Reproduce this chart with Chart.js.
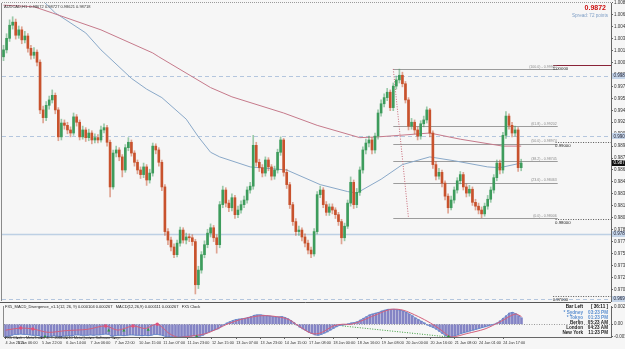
<!DOCTYPE html>
<html><head><meta charset="utf-8">
<script src="https://cdn.jsdelivr.net/npm/chart.js@4.4.1/dist/chart.umd.min.js"></script>
<style>
html,body{margin:0;padding:0;background:#f6f6f6;width:625px;height:349px;overflow:hidden}
#wrap{position:relative;width:625px;height:349px}
canvas{position:absolute;left:0}
#main{top:0}
#macd{top:302px}
</style></head><body>
<div id="wrap"><canvas id="main" width="625" height="302"></canvas><canvas id="macd" width="625" height="47"></canvas></div>
<script>
// ================= DATA =================
const symbolHeader = 'AUDCAD,H1  0.98672 0.98727 0.98621 0.98718';
const lastPriceBig = '0.9872';
const spreadText = 'Spread: 72 points';
const lastPrice = 0.98720;

const timeTickIdx = [0,4,12,20,28,36,44,52,60,68,76,84,92,100,108,116,124,132,140,148,156,164];
const timeTickText = ['4 Jan 2011','5 Jan 06:00','5 Jan 22:00','6 Jan 14:00','7 Jan 06:00','7 Jan 22:00','10 Jan 15:00','11 Jan 07:00','11 Jan 23:00','12 Jan 15:00','13 Jan 07:00','13 Jan 23:00','14 Jan 15:00','17 Jan 08:00','18 Jan 00:00','18 Jan 16:00','19 Jan 08:00','20 Jan 00:00','20 Jan 16:00','21 Jan 08:00','24 Jan 01:00','24 Jan 17:00'];

const opens = [1.0010,1.0019,1.0034,1.0051,1.0055,1.0038,1.0045,1.0032,1.0037,1.0021,
1.0012,1.0016,1.0003,0.9941,0.9931,0.9947,0.9954,0.9960,0.9941,0.9906,
0.9924,0.9921,0.9915,0.9911,0.9932,0.9925,0.9906,0.9915,0.9905,0.9911,
0.9902,0.9905,0.9902,0.9915,0.9918,0.9899,0.9841,0.9885,0.9889,0.9880,
0.9863,0.9892,0.9899,0.9885,0.9873,0.9863,0.9857,0.9867,0.9850,0.9859,
0.9894,0.9889,0.9873,0.9841,0.9783,0.9772,0.9763,0.9753,0.9768,0.9785,
0.9772,0.9776,0.9775,0.9770,0.9714,0.9733,0.9753,0.9766,0.9781,0.9788,
0.9775,0.9766,0.9818,0.9837,0.9820,0.9814,0.9827,0.9805,0.9811,0.9818,
0.9824,0.9837,0.9842,0.9895,0.9873,0.9866,0.9859,0.9876,0.9867,0.9855,
0.9863,0.9886,0.9902,0.9860,0.9844,0.9818,0.9796,0.9783,0.9785,0.9776,
0.9768,0.9759,0.9754,0.9783,0.9831,0.9837,0.9818,0.9808,0.9815,0.9811,
0.9805,0.9796,0.9775,0.9790,0.9820,0.9847,0.9818,0.9834,0.9863,0.9889,
0.9898,0.9902,0.9889,0.9907,0.9937,0.9949,0.9957,0.9964,0.9944,0.9972,
0.9980,0.9986,0.9975,0.9954,0.9920,0.9925,0.9915,0.9907,0.9923,0.9928,
0.9941,0.9911,0.9870,0.9855,0.9860,0.9846,0.9829,0.9814,0.9824,0.9837,
0.9849,0.9857,0.9841,0.9833,0.9838,0.9821,0.9816,0.9811,0.9806,0.9816,
0.9825,0.9837,0.9853,0.9872,0.9863,0.9908,0.9933,0.9921,0.9911,0.9915,
0.9866];
const highs = [1.0025,1.0040,1.0058,1.0062,1.0059,1.0050,1.0049,1.0043,1.0040,1.0025,
1.0022,1.0019,1.0006,0.9946,0.9952,0.9959,0.9967,0.9963,0.9944,0.9929,
0.9928,0.9925,0.9919,0.9937,0.9935,0.9928,0.9920,0.9918,0.9916,0.9914,
0.9910,0.9909,0.9920,0.9923,0.9921,0.9902,0.9889,0.9894,0.9892,0.9883,
0.9896,0.9905,0.9902,0.9888,0.9876,0.9867,0.9872,0.9870,0.9864,0.9898,
0.9897,0.9892,0.9876,0.9844,0.9787,0.9776,0.9767,0.9772,0.9789,0.9788,
0.9781,0.9780,0.9779,0.9773,0.9738,0.9757,0.9771,0.9786,0.9793,0.9791,
0.9779,0.9822,0.9842,0.9840,0.9824,0.9832,0.9830,0.9816,0.9823,0.9829,
0.9841,0.9847,0.9908,0.9899,0.9877,0.9870,0.9880,0.9879,0.9870,0.9868,
0.9890,0.9906,0.9904,0.9864,0.9847,0.9821,0.9800,0.9790,0.9788,0.9780,
0.9772,0.9763,0.9787,0.9835,0.9842,0.9840,0.9822,0.9819,0.9819,0.9814,
0.9808,0.9799,0.9794,0.9824,0.9854,0.9850,0.9839,0.9867,0.9893,0.9903,
0.9907,0.9905,0.9911,0.9941,0.9954,0.9962,0.9969,0.9967,0.9976,0.9985,
0.9994,0.9990,0.9978,0.9957,0.9930,0.9928,0.9919,0.9927,0.9933,0.9945,
0.9943,0.9914,0.9874,0.9865,0.9863,0.9849,0.9832,0.9829,0.9841,0.9853,
0.9861,0.9860,0.9845,0.9843,0.9841,0.9825,0.9820,0.9815,0.9820,0.9830,
0.9841,0.9857,0.9876,0.9876,0.9912,0.9939,0.9936,0.9925,0.9920,0.9918,
0.9877];
const lows = [1.0005,1.0015,1.0030,1.0046,1.0033,1.0034,1.0027,1.0028,1.0016,1.0007,
1.0008,0.9998,0.9936,0.9924,0.9927,0.9942,0.9950,0.9936,0.9901,0.9902,
0.9916,0.9910,0.9906,0.9908,0.9920,0.9902,0.9903,0.9900,0.9901,0.9897,
0.9898,0.9898,0.9899,0.9911,0.9894,0.9828,0.9838,0.9880,0.9875,0.9854,
0.9860,0.9888,0.9881,0.9868,0.9858,0.9852,0.9853,0.9843,0.9846,0.9855,
0.9884,0.9868,0.9836,0.9778,0.9766,0.9758,0.9749,0.9750,0.9764,0.9768,
0.9767,0.9770,0.9765,0.9702,0.9709,0.9729,0.9749,0.9762,0.9776,0.9770,
0.9755,0.9762,0.9814,0.9815,0.9809,0.9810,0.9800,0.9801,0.9807,0.9814,
0.9820,0.9833,0.9838,0.9868,0.9861,0.9854,0.9855,0.9862,0.9850,0.9851,
0.9859,0.9882,0.9855,0.9839,0.9813,0.9791,0.9778,0.9778,0.9771,0.9763,
0.9754,0.9749,0.9751,0.9780,0.9827,0.9814,0.9804,0.9804,0.9806,0.9800,
0.9791,0.9767,0.9771,0.9787,0.9816,0.9813,0.9814,0.9830,0.9859,0.9884,
0.9893,0.9884,0.9885,0.9903,0.9933,0.9945,0.9953,0.9940,0.9940,0.9968,
0.9976,0.9971,0.9950,0.9915,0.9916,0.9910,0.9902,0.9903,0.9919,0.9924,
0.9906,0.9865,0.9850,0.9851,0.9841,0.9824,0.9807,0.9811,0.9820,0.9833,
0.9845,0.9837,0.9828,0.9829,0.9817,0.9811,0.9806,0.9801,0.9803,0.9812,
0.9821,0.9833,0.9849,0.9858,0.9859,0.9904,0.9916,0.9906,0.9907,0.9861,
0.9862];
const closes = [1.0019,1.0034,1.0051,1.0055,1.0038,1.0045,1.0032,1.0037,1.0021,1.0012,
1.0016,1.0003,0.9941,0.9931,0.9947,0.9954,0.9960,0.9941,0.9906,0.9924,
0.9921,0.9915,0.9911,0.9932,0.9925,0.9906,0.9915,0.9905,0.9911,0.9902,
0.9905,0.9902,0.9915,0.9918,0.9899,0.9841,0.9885,0.9889,0.9880,0.9863,
0.9892,0.9899,0.9885,0.9873,0.9863,0.9857,0.9867,0.9850,0.9859,0.9894,
0.9889,0.9873,0.9841,0.9783,0.9772,0.9763,0.9753,0.9768,0.9785,0.9772,
0.9776,0.9775,0.9770,0.9714,0.9733,0.9753,0.9766,0.9781,0.9788,0.9775,
0.9766,0.9818,0.9837,0.9820,0.9814,0.9827,0.9805,0.9811,0.9818,0.9824,
0.9837,0.9842,0.9895,0.9873,0.9866,0.9859,0.9876,0.9867,0.9855,0.9863,
0.9886,0.9902,0.9860,0.9844,0.9818,0.9796,0.9783,0.9785,0.9776,0.9768,
0.9759,0.9754,0.9783,0.9831,0.9837,0.9818,0.9808,0.9815,0.9811,0.9805,
0.9796,0.9775,0.9790,0.9820,0.9847,0.9818,0.9834,0.9863,0.9889,0.9898,
0.9902,0.9889,0.9907,0.9937,0.9949,0.9957,0.9964,0.9944,0.9972,0.9980,
0.9986,0.9975,0.9954,0.9920,0.9925,0.9915,0.9907,0.9923,0.9928,0.9941,
0.9911,0.9870,0.9855,0.9860,0.9846,0.9829,0.9814,0.9824,0.9837,0.9849,
0.9857,0.9841,0.9833,0.9838,0.9821,0.9816,0.9811,0.9806,0.9816,0.9825,
0.9837,0.9853,0.9872,0.9863,0.9908,0.9933,0.9921,0.9911,0.9915,0.9866,
0.9872];

const maRedIdx = [0,10,16,32,49,51,68,75,92,103,117,123,130,140,150,164,170];
const maRedVal = [1.0077,1.0075,1.0067,1.0045,1.0015,1.0010,0.9970,0.9958,0.9937,0.9921,0.9905,0.9906,0.9908,0.9911,0.9903,0.9894,0.9894];
const maBlueIdx = [10,17,27,32,42,47,52,60,64,68,71,81,93,104,113,116,124,131,140,148,159,163,170];
const maBlueVal = [1.0094,1.0067,1.0041,1.0019,0.9982,0.9968,0.9957,0.9929,0.9906,0.9886,0.9880,0.9867,0.9863,0.9844,0.9835,0.9833,0.9851,0.9870,0.9880,0.9875,0.9867,0.9866,0.9872];

const priceTicks = [1.00800,1.00645,1.00490,1.00335,1.00180,1.00025,0.99870,0.99715,0.99560,0.99405,0.99250,0.99095,0.98940,0.98785,0.98630,0.98475,0.98320,0.98165,0.98010,0.97855,0.97700,0.97545,0.97390,0.97235,0.97080];

const hLinePrices = [0.99851,0.99065,0.97805,0.96955];
const levelPrices = [1.00000,0.99000,0.98000,0.97000];
const levelText = ['1.00000','0.99000','0.98000','0.97000'];
const fibLevels = ['100.0','61.8','50.0','38.2','23.6','0.0'];
const fibPrices = [0.99942,0.99202,0.98974,0.98745,0.98463,0.98006];
const fibDiagBars = [128,133];
const fibDiagPrices = [0.99942,0.98006];

const macdHist = [-0.0029,-0.0028,-0.0026,-0.0024,-0.0024,-0.0023,-0.0024,-0.0024,-0.0025,-0.0026,
-0.0026,-0.0027,-0.0030,-0.0030,-0.0029,-0.0028,-0.0027,-0.0028,-0.0029,-0.0028,
-0.0027,-0.0027,-0.0027,-0.0025,-0.0025,-0.0026,-0.0026,-0.0026,-0.0025,-0.0026,
-0.0025,-0.0025,-0.0024,-0.0023,-0.0024,-0.0028,-0.0027,-0.0026,-0.0026,-0.0027,
-0.0026,-0.0025,-0.0025,-0.0026,-0.0026,-0.0027,-0.0026,-0.0027,-0.0026,-0.0024,
-0.0024,-0.0025,-0.0027,-0.0030,-0.0030,-0.0030,-0.0030,-0.0030,-0.0029,-0.0029,
-0.0028,-0.0028,-0.0027,-0.0029,-0.0028,-0.0026,-0.0022,-0.0018,-0.0015,-0.0013,
-0.0011,-0.0006,-0.0001,0.0003,0.0006,0.0009,0.0011,0.0012,0.0013,0.0014,
0.0016,0.0018,0.0021,0.0022,0.0022,0.0021,0.0020,0.0019,0.0018,0.0017,
0.0017,0.0018,0.0016,0.0013,0.0009,0.0004,-0.0002,-0.0007,-0.0011,-0.0015,
-0.0019,-0.0022,-0.0025,-0.0026,-0.0024,-0.0021,-0.0018,-0.0014,-0.0010,-0.0006,
-0.0003,-0.0002,-0.0001,0.0001,0.0003,0.0004,0.0006,0.0010,0.0014,0.0018,
0.0022,0.0024,0.0026,0.0028,0.0031,0.0033,0.0035,0.0035,0.0035,0.0034,
0.0033,0.0031,0.0028,0.0024,0.0020,0.0015,0.0011,0.0007,0.0003,-0.0002,
-0.0005,-0.0008,-0.0012,-0.0017,-0.0022,-0.0027,-0.0030,-0.0029,-0.0027,-0.0025,
-0.0022,-0.0020,-0.0018,-0.0016,-0.0014,-0.0012,-0.0010,-0.0008,-0.0006,-0.0004,
-0.0002,0.0000,0.0003,0.0008,0.0014,0.0020,0.0026,0.0028,0.0025,0.0020,
0.0015];
const macdSigIdx = [0,5,9,14,20,27,33,37,42,46,50,54,57,61,66,70,73,78,84,88,93,97,101,104,108,111,114,118,123,127,131,136,140,143,147,152,158,163,168,170];
const macdSigVal = [-0.0014,-0.0009,-0.0011,-0.0019,-0.0015,-0.0012,-0.0004,-0.0014,-0.0004,-0.0010,0.0000,-0.0022,-0.0031,-0.0028,-0.0022,-0.0010,0.0000,0.0012,0.0020,0.0019,0.0012,-0.0006,-0.0022,-0.0020,-0.0004,0.0000,0.0000,0.0010,0.0025,0.0035,0.0033,0.0018,0.0003,-0.0011,-0.0030,-0.0022,-0.0011,0.0006,0.0024,0.0018];
const peakDotIdx = [5,9,33,42,50];
const peakDotVal = [-0.0009,-0.0011,-0.0004,-0.0004,0.0000];
const troughMarkIdx = [13,34,39,47,63,146];
const troughMarkVal = [-0.0029,-0.0015,-0.0015,-0.0013,-0.0029,-0.0029];
const divLineIdx = [111,146];
const divLineVal = [-0.0004,-0.0030];
const macdTickVals = [0.0040,0,-0.0029];
const macdTickText = ['0.00285','0.00','-0.00302'];
const macdTitle = 'FX5_MACD_Divergence_v1.1(12, 26, 9) 0.000104 0.000267   MACD(12,26,9) 0.000111 0.000267   FX5 Clock';
const footerText = 'FX5 Clock - MetaTrader 4, \u00A9 2001-2010 MetaQuotes Software Corp.';
const clockNames = ['Bar Left','* Sydney','* Tokyo','Berlin','London','New York'];
const clockValues = ['[ 36:11 ]','03:23 PM','01:23 PM','05:23 AM','04:23 AM','11:23 PM'];

// ================= LAYOUT / STYLE =================
const FONT = '"Liberation Sans", Arial, sans-serif';
Chart.defaults.font.family = FONT;
Chart.defaults.font.size = 4.5;
const X_MIN = -0.5, X_MAX = 199.5;
const MAIN_MIN = 0.969286, MAIN_MAX = 1.007987;
const MACD_MIN = -0.0030, MACD_MAX = 0.00428;
const FIB_START = 128, FIB_END = 182;
const LEVEL_START = [180.5,181.3,181.3,180.5];
const BG = '#f6f6f6';
const STYLE = {
  bull:'#3d9c5c', bear:'#c8522d',
  bullWick:'rgba(61,156,92,0.5)', bearWick:'rgba(200,82,45,0.5)',
  maRed:'#c67a8b', maBlue:'#8aa9c9',
  hLines:[
    {color:'#b4c6de', width:1, dash:[4,3]},
    {color:'#b4c6de', width:1, dash:[4,3]},
    {color:'#bdd0e4', width:1.6, dash:[]},
    {color:'#b4c6de', width:1, dash:[4,3]}
  ],
  levels:[
    {color:'#8a2338', width:1.2, dash:[]},
    {color:'#555', width:1, dash:[1,1.5]},
    {color:'#555', width:1, dash:[1,1.5]},
    {color:'#555', width:1, dash:[1,1.5]}
  ],
  fib:'#9c9c9c', fibText:'#8c8c8c', fibDiag:'#c86a78',
  hist:'rgba(112,112,188,0.85)', macdLine:'#5c88cc', sigLine:'#d4607c',
  peakDot:'#e0507c', trough:'#2f9a3a', div:'#3d9d3d',
  axis:'#666', text:'#222'
};

const idx = closes.map((_, i) => i);
const isBull = i => closes[i] >= opens[i];
const snap = v => Math.round(v) + 0.5;

function drawLine(ctx, x1, y1, x2, y2, color, w, dash) {
  ctx.save(); ctx.strokeStyle = color; ctx.lineWidth = w; ctx.setLineDash(dash || []);
  ctx.beginPath(); ctx.moveTo(x1, y1); ctx.lineTo(x2, y2); ctx.stroke(); ctx.restore();
}
function drawText(ctx, s, x, y, font, color, align) {
  ctx.save(); ctx.font = font; ctx.fillStyle = color; ctx.textAlign = align || 'left';
  ctx.textBaseline = 'middle'; ctx.fillText(s, x, y); ctx.restore();
}
const bgPlugin = {
  id: 'bg',
  beforeDraw(chart) { const c = chart.ctx; c.save(); c.fillStyle = BG; c.fillRect(0, 0, chart.width, chart.height); c.restore(); }
};
function zeroPad(scale) { scale.paddingTop = 0; scale.paddingBottom = 0; scale.paddingLeft = 0; scale.paddingRight = 0; }

// ---------- main chart decorations ----------
const mainDecor = {
  id: 'mainDecor',
  beforeDatasetsDraw(chart) {
    const {ctx, chartArea: a, scales: {x, y}} = chart;
    ctx.save();
    ctx.beginPath(); ctx.rect(a.left, a.top, a.right - a.left, a.bottom - a.top); ctx.clip();
    hLinePrices.forEach((p, k) => {
      const s = STYLE.hLines[k]; const py = snap(y.getPixelForValue(p));
      drawLine(ctx, a.left, py, a.right, py, s.color, s.width, s.dash);
    });
    const fx1 = x.getPixelForValue(FIB_START), fx2 = x.getPixelForValue(FIB_END);
    fibPrices.forEach(p => { const py = snap(y.getPixelForValue(p)); drawLine(ctx, fx1, py, fx2, py, STYLE.fib, 1); });
    drawLine(ctx, x.getPixelForValue(fibDiagBars[0]), y.getPixelForValue(fibDiagPrices[0]),
             x.getPixelForValue(fibDiagBars[1]), y.getPixelForValue(fibDiagPrices[1]), STYLE.fibDiag, 1, [1, 1.5]);
    levelPrices.forEach((p, k) => {
      const s = STYLE.levels[k]; const py = snap(y.getPixelForValue(p));
      drawLine(ctx, x.getPixelForValue(LEVEL_START[k]), py, a.right, py, s.color, s.width, s.dash);
    });
    ctx.restore();
  },
  afterDraw(chart) {
    const {ctx, chartArea: a, scales: {x, y}} = chart;
    drawLine(ctx, a.left - 0.5, a.top, a.left - 0.5, a.bottom, '#8a8a8a', 1);
    drawLine(ctx, a.left, a.top - 0.5, a.right, a.top - 0.5, '#9a9a9a', 1, [1, 1]);
    const fx2 = x.getPixelForValue(FIB_END);
    fibPrices.forEach((p, k) => {
      const py = y.getPixelForValue(p);
      drawText(ctx, '(' + fibLevels[k] + ') - ' + p.toFixed(5), fx2 - 1, py - 2.4, '3.6px ' + FONT, STYLE.fibText, 'right');
    });
    levelPrices.forEach((p, k) => {
      const py = y.getPixelForValue(p);
      drawText(ctx, levelText[k], x.getPixelForValue(LEVEL_START[k]) - 0.5, py + 4.2, '4.3px ' + FONT, STYLE.text, 'left');
    });
    drawText(ctx, symbolHeader, a.left + 2, a.top + 3.5, '4px ' + FONT, '#333', 'left');
    drawText(ctx, lastPriceBig, 606, 8.5, 'bold 7px ' + FONT, '#cc1111', 'right');
    drawText(ctx, spreadText, 608, 15.5, '4.6px ' + FONT, '#7f9fc6', 'right');
    const boxes = hLinePrices.map(p => ({p, bg:'#c6d6ea', fg:'#223'}));
    boxes.push({p: lastPrice, bg:'#111', fg:'#fff'});
    boxes.forEach(b => {
      const py = y.getPixelForValue(b.p);
      ctx.save(); ctx.fillStyle = b.bg; ctx.fillRect(a.right + 1, Math.round(py) - 3, 24, 6); ctx.restore();
      drawText(ctx, b.p.toFixed(5), a.right + 2.5, py, '4.5px ' + FONT, b.fg, 'left');
    });
  }
};

// ---------- main chart ----------
new Chart(document.getElementById('main'), {
  type: 'bar',
  data: { datasets: [
    { type:'line', data: maRedIdx.map((v, k) => ({x:v, y:maRedVal[k]})), borderColor: STYLE.maRed, borderWidth: 1, pointRadius: 0, order: 5 },
    { type:'line', data: maBlueIdx.map((v, k) => ({x:v, y:maBlueVal[k]})), borderColor: STYLE.maBlue, borderWidth: 1, pointRadius: 0, order: 5 },
    { type:'bar', data: idx.map(i => ({x:i, y:[lows[i], highs[i]]})), grouped:false, barThickness: 1,
      backgroundColor: c => isBull(c.dataIndex) ? STYLE.bullWick : STYLE.bearWick, order: 3 },
    { type:'bar', data: idx.map(i => ({x:i, y:[opens[i], closes[i]]})), grouped:false, barThickness: 2, minBarLength: 1,
      backgroundColor: c => isBull(c.dataIndex) ? STYLE.bull : STYLE.bear, order: 1 }
  ]},
  options: {
    responsive:false, animation:false, devicePixelRatio:1,
    layout:{ padding:{ left:2, top:3, right:0, bottom:1 } },
    plugins:{ legend:{display:false}, tooltip:{enabled:false} },
    scales:{
      x:{ type:'linear', min:X_MIN, max:X_MAX, offset:false, display:false, grid:{offset:false} },
      y:{ type:'linear', position:'right', min:MAIN_MIN, max:MAIN_MAX,
          afterBuildTicks: s => { s.ticks = priceTicks.map(v => ({value:v})); },
          afterFit: s => { s.width = 14; zeroPad(s); },
          ticks:{ autoSkip:false, padding:1, color:'#333', font:{size:4.5}, callback: v => v.toFixed(5) },
          grid:{ drawOnChartArea:false, drawTicks:true, tickLength:2, color:STYLE.axis },
          border:{ display:true, color:STYLE.axis } }
    }
  },
  plugins:[bgPlugin, mainDecor]
});

// ---------- MACD decorations ----------
const macdDecor = {
  id: 'macdDecor',
  beforeDatasetsDraw(chart) {
    const {ctx, chartArea: a, scales: {y}} = chart;
    const py = snap(y.getPixelForValue(0));
    drawLine(ctx, a.left, py, a.right, py, '#9a9a9a', 1, [1, 1.5]);
  },
  afterDraw(chart) {
    const {ctx, chartArea: a} = chart;
    drawLine(ctx, 0, 0.5, a.right, 0.5, '#555', 1);
    drawLine(ctx, a.left - 0.5, a.top, a.left - 0.5, a.bottom, '#8a8a8a', 1);
    drawText(ctx, macdTitle, a.left + 1, 5, '4px ' + FONT, STYLE.text, 'left');
    const rows = [5, 10.5, 15.5, 20.5, 25.5, 30.5];
    const nameCol = ['#111', '#5b8fd0', '#5b8fd0', '#222', '#222', '#222'];
    clockNames.forEach((n, k) => {
      drawText(ctx, n, 583, rows[k], 'bold 4.6px ' + FONT, nameCol[k], 'right');
      drawText(ctx, clockValues[k], 608, rows[k], 'bold 4.6px ' + FONT, nameCol[k], 'right');
    });
    drawText(ctx, footerText, a.left + 1, 36.3, '3.8px ' + FONT, '#333', 'left');
  }
};

// ---------- MACD chart ----------
new Chart(document.getElementById('macd'), {
  type: 'bar',
  data: { datasets: [
    { type:'bar', data: idx.map(i => ({x:i, y:macdHist[i]})), grouped:false, barThickness: 2, backgroundColor: STYLE.hist, order: 6 },
    { type:'line', data: idx.map(i => ({x:i, y:macdHist[i]})), borderColor: STYLE.macdLine, borderWidth: 0.8, pointRadius: 0, order: 3 },
    { type:'line', data: macdSigIdx.map((v, k) => ({x:v, y:macdSigVal[k]})), borderColor: STYLE.sigLine, borderWidth: 1, pointRadius: 0, tension: 0.3, order: 2 },
    { type:'line', data: divLineIdx.map((v, k) => ({x:v, y:divLineVal[k]})), borderColor: STYLE.div, borderWidth: 1, borderDash:[1, 1.5], pointRadius: 0, order: 2 },
    { type:'line', data: peakDotIdx.map((v, k) => ({x:v, y:peakDotVal[k]})), showLine:false, pointRadius: 1.7, pointBackgroundColor: STYLE.peakDot, pointBorderWidth: 0, order: 1 },
    { type:'line', data: troughMarkIdx.map((v, k) => ({x:v, y:troughMarkVal[k]})), showLine:false, pointStyle:'triangle', pointRadius: 1.8, pointBackgroundColor: STYLE.trough, pointBorderWidth: 0, order: 1 }
  ]},
  options: {
    responsive:false, animation:false, devicePixelRatio:1,
    layout:{ padding:{ left:2, top:1, right:0, bottom:0 } },
    plugins:{ legend:{display:false}, tooltip:{enabled:false} },
    scales:{
      x:{ type:'linear', min:X_MIN, max:X_MAX, offset:false,
          afterBuildTicks: s => { s.ticks = timeTickIdx.map(v => ({value:v})); },
          afterFit: s => { s.height = 12; zeroPad(s); },
          ticks:{ autoSkip:false, maxRotation:0, minRotation:0, align:'start', padding:2, color:'#333', font:{size:3.8},
                  callback: (v, i) => timeTickText[i] },
          grid:{ drawOnChartArea:false, drawTicks:true, tickLength:2, color:STYLE.axis, offset:false },
          border:{ display:true, color:STYLE.axis } },
      y:{ type:'linear', position:'right', min:MACD_MIN, max:MACD_MAX,
          afterBuildTicks: s => { s.ticks = macdTickVals.map(v => ({value:v})); },
          afterFit: s => { s.width = 14; zeroPad(s); },
          ticks:{ autoSkip:false, padding:1, color:'#333', font:{size:4.5}, callback: (v, i) => macdTickText[i] },
          grid:{ drawOnChartArea:false, drawTicks:true, tickLength:2, color:STYLE.axis },
          border:{ display:true, color:STYLE.axis } }
    }
  },
  plugins:[bgPlugin, macdDecor]
});
</script>
</body></html>
